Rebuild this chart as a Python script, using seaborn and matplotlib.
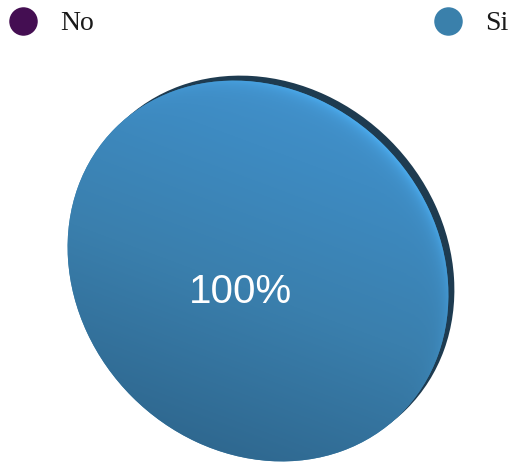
import matplotlib
matplotlib.use("Agg")
import numpy as np
import pandas as pd
import matplotlib.pyplot as plt
import seaborn as sns
from matplotlib.transforms import Affine2D
from matplotlib.patches import PathPatch
from matplotlib.lines import Line2D
from matplotlib.colors import LinearSegmentedColormap, to_rgb

# Survey answers
categories = ["No", "Si"]
values = [0, 100]
colors = ["#440e52", "#3a80ab"]

df = pd.DataFrame({"respuesta": categories, "valor": values})

sns.set_theme(style="white")
plt.rcParams["font.family"] = ["Liberation Sans", "DejaVu Sans"]

W, H = 512, 466
fig = plt.figure(figsize=(W / 100, H / 100), dpi=100)
ax = fig.add_axes([0, 0, 1, 1])


def pct_label(p):
    return f"{p:.0f}%" if p > 0 else ""


wedges, texts, autotexts = ax.pie(
    df["valor"], colors=colors, autopct=pct_label, startangle=90,
    counterclock=False,
    textprops=dict(color="white", fontsize=29, family=["Liberation Sans"]),
    wedgeprops=dict(linewidth=0),
)

# Tilted oval look with a dark rim behind (pseudo 3D)
cx, cy, sa, sb, rot = 258, 271, 202, 178, 45
shape = Affine2D().scale(sa, sb).rotate_deg(rot).translate(cx, cy)
rim = Affine2D().scale(sa, sb).rotate_deg(rot).translate(cx + 6, cy - 5)

for w in wedges:
    w.set_transform(shape + ax.transData)

si = wedges[1]
ax.add_patch(PathPatch(si.get_path(), transform=rim + ax.transData,
                       facecolor="#1e3b50", edgecolor="none", zorder=0.5))

# Shaded fill: lighter at the top, darker at the bottom,
# with a bright band just inside the upper-right edge
cmap = LinearSegmentedColormap.from_list(
    "shade", [(0.0, "#2e668d"), (0.45, "#3a7fad"), (0.8, "#3e8bc2"), (1.0, "#4292cd")])
yy, xx = np.mgrid[0:H, 0:W].astype(float)
dx, dy = xx - cx, yy - cy
proj = (0.35 * dx - 0.94 * dy) / 200
shade = np.clip((proj + 1) / 2, 0, 1)
rgb = cmap(shade)[..., :3]

c, s = np.cos(np.radians(-rot)), np.sin(np.radians(-rot))
u = (c * dx - s * dy) / sa
v = (s * dx + c * dy) / sb
r = np.sqrt(u ** 2 + v ** 2)
facing = np.clip((dx - dy) / np.sqrt(2) / np.maximum(np.hypot(dx, dy), 1e-6), 0, 1)
band = np.exp(-np.clip(1 - r, 0, None) / 0.035) * facing ** 1.5
hi = np.array(to_rgb("#4cadf0"))
rgb = rgb * (1 - band[..., None]) + hi * band[..., None]

im = ax.imshow(rgb, extent=(0, W, H, 0), interpolation="bilinear", zorder=1.2)
im.set_clip_path(si)

for t in autotexts:
    t.set_position((240, 292))
    t.set_ha("center")
    t.set_va("center")
    t.set_zorder(3)

ax.set_xlim(0, W)
ax.set_ylim(H, 0)
ax.set_aspect("auto")
ax.axis("off")

# Legend entries at the two top corners
anchors = [(0.0, 1.0 - 2.5 / H), (0.830, 1.0 - 2.5 / H)]
for cat, col, anc in zip(categories, colors, anchors):
    h = Line2D([], [], marker="o", linestyle="", color=col, markersize=19.5)
    leg = fig.legend(handles=[h], labels=[cat], loc="upper left",
                     bbox_to_anchor=anc, frameon=False, handlelength=1.09,
                     handleheight=0.45, handletextpad=0.76, borderaxespad=0.0,
                     borderpad=0.3,
                     prop=dict(family="Liberation Serif", size=20))
    for txt in leg.get_texts():
        txt.set_color("#1a1a1a")

fig.savefig("out.png", dpi=100)
